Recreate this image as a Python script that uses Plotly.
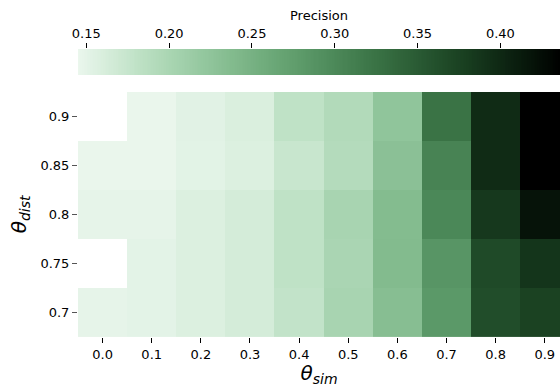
import numpy as np
import plotly.graph_objects as go

# ---- data ----
theta_sim = ['0.0', '0.1', '0.2', '0.3', '0.4', '0.5', '0.6', '0.7', '0.8', '0.9']
theta_dist = ['0.7', '0.75', '0.8', '0.85', '0.9']

prec_dist_070 = [0.149, 0.151, 0.157, 0.164, 0.179, 0.202, 0.234, 0.281, 0.364, 0.375]
prec_dist_075 = [None, 0.151, 0.157, 0.164, 0.181, 0.200, 0.238, 0.285, 0.367, 0.388]
prec_dist_080 = [0.149, 0.149, 0.157, 0.164, 0.181, 0.202, 0.237, 0.301, 0.385, 0.419]
prec_dist_085 = [0.146, 0.146, 0.152, 0.157, 0.174, 0.191, 0.230, 0.306, 0.397, 0.436]
prec_dist_090 = [None, 0.146, 0.153, 0.159, 0.181, 0.193, 0.224, 0.324, 0.397, 0.436]

cbar_tickvals = [0.15, 0.20, 0.25, 0.30, 0.35, 0.40]
cbar_ticktext = ['0.15', '0.20', '0.25', '0.30', '0.35', '0.40']
z_min, z_max = 0.145, 0.436

z_rows = [prec_dist_070, prec_dist_075, prec_dist_080, prec_dist_085, prec_dist_090]


# ---- colormap: cubehelix(start=2, rot=0, light=.95, dark=0) ----
def cubehelix_rgb(x, start=2.0, rot=0.0, hue=0.8, gamma=1.0):
    xg = x ** gamma
    a = hue * xg * (1 - xg) / 2
    phi = 2 * np.pi * (start / 3 + rot * x)
    r = xg + a * (-0.14861 * np.cos(phi) + 1.78277 * np.sin(phi))
    g = xg + a * (-0.29227 * np.cos(phi) - 0.90649 * np.sin(phi))
    b = xg + a * (1.97294 * np.cos(phi))
    return [int(round(255 * min(max(c, 0), 1))) for c in (r, g, b)]


n_stops = 48
colorscale = []
for i in range(n_stops):
    t = i / (n_stops - 1)
    xv = 0.95 * (1 - t)
    r, g, b = cubehelix_rgb(xv)
    colorscale.append([t, f'rgb({r},{g},{b})'])

font_family = 'DejaVu Sans, Liberation Sans, sans-serif'

fig = go.Figure()

fig.add_trace(go.Heatmap(
    x=list(range(len(theta_sim))), y=list(range(len(theta_dist))), z=z_rows,
    colorscale=colorscale, zmin=z_min, zmax=z_max, showscale=False,
    xaxis='x', yaxis='y', hoverongaps=False,
))

# gradient strip acting as the colorbar
cbar_x = np.linspace(z_min, z_max, 300)
fig.add_trace(go.Heatmap(
    x=cbar_x, y=[0], z=[cbar_x],
    colorscale=colorscale, zmin=z_min, zmax=z_max, showscale=False,
    xaxis='x2', yaxis='y2', hoverinfo='skip',
))

fig.update_layout(
    width=560, height=387,
    margin=dict(l=78, r=0, t=49, b=50, autoexpand=False),
    paper_bgcolor='white', plot_bgcolor='white',
    font=dict(family=font_family, size=13, color='black'),
    xaxis=dict(
        domain=[0, 1], anchor='y', range=[-0.5, 9.31], automargin=False,
        tickvals=list(range(len(theta_sim))), ticktext=theta_sim,
        ticks='outside', ticklen=5, tickcolor='black', tickwidth=1,
        showgrid=False, zeroline=False, showline=False,
        title=dict(text='<i>θ<sub>sim</sub></i>', font=dict(size=20), standoff=2),
    ),
    yaxis=dict(
        domain=[0, 0.851], anchor='x', range=[-0.5, 4.5], automargin=False,
        tickvals=list(range(len(theta_dist))), ticktext=theta_dist,
        ticks='outside', ticklen=5, tickcolor='#555', tickwidth=1,
        showgrid=False, zeroline=False, showline=False,
        title=dict(text='<i>θ<sub>dist</sub></i>', font=dict(size=20), standoff=8),
    ),
    xaxis2=dict(
        domain=[0, 1], anchor='y2', side='top', range=[z_min, z_max], automargin=False,
        tickvals=cbar_tickvals, ticktext=cbar_ticktext,
        ticks='outside', ticklen=5, tickcolor='black', tickwidth=1,
        showgrid=False, zeroline=False, showline=False,
        title=dict(text='Precision', font=dict(size=13), standoff=2),
    ),
    yaxis2=dict(
        domain=[0.910, 1], anchor='x2', range=[-0.5, 0.5], automargin=False,
        showticklabels=False, ticks='', showgrid=False, zeroline=False, showline=False,
    ),
)

fig.write_html('out.html', config={'displayModeBar': False},
               post_script="document.body.style.margin='0';")
